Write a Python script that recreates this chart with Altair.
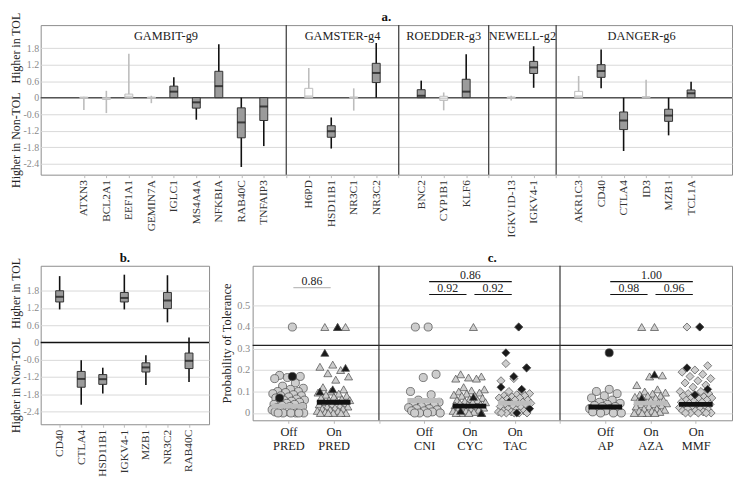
import json
import altair as alt
import pandas as pd

SERIF = "Liberation Serif"

# ---------------- Panel a data ----------------
a_groups = ["GAMBIT-g9", "GAMSTER-g4", "ROEDDER-g3", "NEWELL-g2", "DANGER-g6"]
a_genes = [
    ["ATXN3", "BCL2A1", "EEF1A1", "GEMIN7A", "IGLC1", "MS4A4A", "NFKBIA", "RAB40C", "TNFAIP3"],
    ["H6PD", "HSD11B1", "NR3C1", "NR3C2"],
    ["BNC2", "CYP1B1", "KLF6"],
    ["IGKV1D-13", "IGKV4-1"],
    ["AKR1C3", "CD40", "CTLA4", "ID3", "MZB1", "TCL1A"],
]
a_lo = [-0.45, -0.56, 0.00, -0.20, 0.00, -0.80, 0.00, -2.52, -1.76,
        0.00, -1.85, -0.47, 0.00,
        0.00, -0.46, 0.00,
        -0.10, 0.36,
        0.00, 0.34, -1.94, 0.00, -1.37, 0.00]
a_q1 = [-0.03, -0.06, 0.00, -0.03, 0.00, -0.38, 0.00, -1.46, -0.83,
        0.00, -1.44, -0.02, 0.55,
        0.00, -0.10, 0.00,
        -0.02, 0.88,
        0.00, 0.74, -1.16, 0.00, -0.86, 0.00]
a_med = [-0.01, -0.03, 0.04, -0.01, 0.22, -0.17, 0.42, -0.90, -0.32,
         0.05, -1.22, 0.00, 0.90,
         0.07, -0.03, 0.22,
         0.00, 1.10,
         0.05, 0.97, -0.83, 0.01, -0.65, 0.16]
a_q3 = [0.02, 0.00, 0.13, 0.02, 0.42, 0.00, 0.96, -0.37, 0.00,
        0.34, -1.02, 0.02, 1.25,
        0.29, 0.05, 0.67,
        0.02, 1.32,
        0.23, 1.20, -0.52, 0.03, -0.42, 0.28]
a_hi = [0.03, 0.25, 1.60, 0.07, 0.74, 0.00, 1.94, 0.00, 0.00,
        1.08, -0.72, 0.34, 1.99,
        0.62, 0.19, 1.58,
        0.07, 1.87,
        0.79, 1.75, 0.00, 0.65, 0.00, 0.58]
a_sig = [0, 0, 0, 0, 1, 1, 1, 1, 1,
         0, 1, 0, 1,
         1, 0, 1,
         0, 1,
         0, 1, 1, 0, 1, 1]

# ---------------- Panel b data ----------------
b_genes = ["CD40", "CTLA4", "HSD11B1", "IGKV4-1", "MZB1", "NR3C2", "RAB40C"]
b_lo = [1.15, -2.17, -1.78, 1.15, -1.48, 0.70, -1.38]
b_q1 = [1.41, -1.56, -1.46, 1.41, -1.03, 1.18, -0.91]
b_med = [1.59, -1.27, -1.28, 1.55, -0.87, 1.46, -0.64]
b_q3 = [1.80, -1.01, -1.12, 1.74, -0.71, 1.74, -0.37]
b_hi = [2.31, -0.62, -0.88, 2.36, -0.45, 2.34, 0.17]

# ---------------- Panel c data ----------------
c_sets = [["Off PRED", "On PRED"], ["Off CNI", "On CYC", "On TAC"], ["Off AP", "On AZA", "On MMF"]]
off_pred = [0.40, 0.175, 0.17, 0.165, 0.16, 0.14, 0.125, 0.115, 0.11, 0.10, 0.10, 0.095, 0.09, 0.085,
            0.08, 0.08, 0.075, 0.07, 0.065, 0.06, 0.06, 0.055, 0.05, 0.05, 0.045, 0.04, 0.04, 0.035,
            0.03, 0.03, 0.025, 0.02, 0.02, 0.015, 0.015, 0.01, 0.01, 0.005, 0.005, 0.0, 0.0, 0.0, 0.0, 0.0, 0.0]
off_pred_dark = [0.17, 0.07]
on_pred = [0.40, 0.40, 0.40, 0.225, 0.215, 0.20, 0.185, 0.17, 0.155, 0.12, 0.11, 0.10, 0.095, 0.09,
           0.085, 0.08, 0.075, 0.07, 0.065, 0.06, 0.06, 0.055, 0.05, 0.045, 0.04, 0.04, 0.035, 0.03,
           0.03, 0.025, 0.02, 0.02, 0.015, 0.01, 0.01, 0.005, 0.0, 0.0, 0.0, 0.0, 0.0]
on_pred_dark = [0.40, 0.28, 0.21, 0.11, 0.10]
off_cni = [0.40, 0.40, 0.18, 0.165, 0.10, 0.085, 0.06, 0.05, 0.045, 0.04, 0.035, 0.03, 0.025, 0.02,
           0.02, 0.015, 0.01, 0.01, 0.005, 0.0, 0.0, 0.0, 0.0]
off_cni_dark = []
on_cyc = [0.40, 0.18, 0.17, 0.165, 0.16, 0.16, 0.12, 0.11, 0.105, 0.10, 0.095, 0.09, 0.085, 0.08,
          0.08, 0.07, 0.065, 0.06, 0.06, 0.055, 0.05, 0.05, 0.045, 0.04, 0.04, 0.035, 0.03, 0.03,
          0.025, 0.02, 0.02, 0.015, 0.01, 0.01, 0.005, 0.0, 0.0, 0.0, 0.0]
on_cyc_dark = [0.075, 0.01, 0.0]
on_tac = [0.40, 0.23, 0.21, 0.16, 0.15, 0.10, 0.10, 0.09, 0.085, 0.08, 0.08, 0.075, 0.07, 0.07,
          0.065, 0.06, 0.06, 0.055, 0.05, 0.05, 0.045, 0.04, 0.04, 0.035, 0.03, 0.03, 0.025, 0.02,
          0.02, 0.015, 0.01, 0.01, 0.005, 0.005, 0.0, 0.0, 0.0, 0.0, 0.0]
on_tac_dark = [0.40, 0.28, 0.21, 0.17, 0.12, 0.11, 0.05, 0.02, 0.0]
off_ap = [0.11, 0.10, 0.09, 0.08, 0.07, 0.06, 0.05, 0.045, 0.04, 0.035, 0.03, 0.03, 0.02, 0.02,
          0.015, 0.01, 0.01, 0.005, 0.0, 0.0, 0.0]
off_ap_dark = [0.28]
on_aza = [0.40, 0.40, 0.175, 0.17, 0.13, 0.11, 0.10, 0.095, 0.09, 0.085, 0.08, 0.08, 0.075, 0.07,
          0.065, 0.06, 0.06, 0.055, 0.05, 0.05, 0.045, 0.04, 0.04, 0.035, 0.03, 0.03, 0.02, 0.02,
          0.015, 0.01, 0.01, 0.005, 0.0, 0.0, 0.0, 0.0]
on_aza_dark = [0.18, 0.07]
on_mmf = [0.40, 0.40, 0.22, 0.20, 0.19, 0.18, 0.17, 0.16, 0.15, 0.14, 0.13, 0.12, 0.10, 0.10, 0.09,
          0.09, 0.08, 0.08, 0.075, 0.07, 0.07, 0.065, 0.06, 0.06, 0.055, 0.05, 0.05, 0.045, 0.04,
          0.04, 0.035, 0.03, 0.03, 0.025, 0.02, 0.02, 0.015, 0.01, 0.01, 0.005, 0.0, 0.0, 0.0, 0.0, 0.0]
on_mmf_dark = [0.40, 0.21, 0.11, 0.085]
c_values = [off_pred, on_pred, off_cni, on_cyc, on_tac, off_ap, on_aza, on_mmf]
c_dark = [off_pred_dark, on_pred_dark, off_cni_dark, on_cyc_dark, on_tac_dark, off_ap_dark, on_aza_dark, on_mmf_dark]
c_center = [0.032, 0.050, 0.058, 0.032, 0.046, 0.028, 0.046, 0.040]
c_brackets = [("Off PRED", "On PRED", "0.86", "single"),
              ("Off CNI", "On TAC", "0.86", "upper"),
              ("Off CNI", "On CYC", "0.92", "lower"),
              ("On CYC", "On TAC", "0.92", "lower"),
              ("Off AP", "On MMF", "1.00", "upper"),
              ("Off AP", "On AZA", "0.98", "lower"),
              ("On AZA", "On MMF", "0.96", "lower")]

# styles
c_shapes = ["circle", "triangle-up", "circle", "triangle-up", "diamond", "circle", "triangle-up", "diamond"]
c_bar_colors = ["#9a9a9a", "#111111", "#9a9a9a", "#6e6e6e", "#111111", "#9a9a9a", "#808080", "#111111"]

# ---------------- build tables (positions from list order) ----------------
rows, a_labels, a_seps, a_centers = [], [], [], []
p = 0
i = 0
A_DOM = [-1.7, 28.6]
left = A_DOM[0]
for gi, (g, genes) in enumerate(zip(a_groups, a_genes)):
    for gname in genes:
        rows.append(dict(gene=gname, pos=p, lo=a_lo[i], q1=a_q1[i], med=a_med[i], q3=a_q3[i],
                         hi=a_hi[i], sig="sig" if a_sig[i] else "ns"))
        a_labels.append(gname)
        p += 1
        i += 1
    right = p if gi < len(a_groups) - 1 else A_DOM[1]
    a_centers.append(dict(group=g, pos=(left + right) / 2))
    if gi < len(a_groups) - 1:
        a_seps.append(dict(pos=p))
        a_labels.append("")
        left = p
        p += 1
df_a = pd.DataFrame(rows)
df_a_sep = pd.DataFrame(a_seps)
df_a_grp = pd.DataFrame(a_centers)

df_b = pd.DataFrame(dict(gene=b_genes, pos=list(range(len(b_genes))), lo=b_lo, q1=b_q1,
                         med=b_med, q3=b_q3, hi=b_hi, sig=["sig"] * len(b_genes)))

c_cats, c_pos, c_labels, c_seps = [], [], [], []
p = 0
for si, s in enumerate(c_sets):
    for cat in s:
        c_cats.append(cat)
        c_pos.append(p)
        c_labels.append(cat)
        p += 1
    if si < len(c_sets) - 1:
        c_seps.append(dict(pos=p))
        c_labels.append("")
        p += 1
pos_of = dict(zip(c_cats, c_pos))
prow = []
for cat, vals, dk in zip(c_cats, c_values, c_dark):
    for v in vals:
        prow.append(dict(cat=cat, pos=pos_of[cat], value=v, dark="n"))
    for v in dk:
        prow.append(dict(cat=cat, pos=pos_of[cat], value=v, dark="y"))
df_c = pd.DataFrame(prow)
df_c_mean = pd.DataFrame(dict(cat=c_cats, pos=c_pos, center=c_center))
df_c_sep = pd.DataFrame(c_seps)
df_c_br = pd.DataFrame([dict(x1=pos_of[a], x2=pos_of[b], mid=(pos_of[a] + pos_of[b]) / 2 + 0.02,
                             label=lab, level=lev, kind="grey" if a == "Off PRED" else "black")
                        for a, b, lab, lev in c_brackets])
df_c_div = pd.DataFrame(dict(v=[0.315]))

# ---------------- shared axis helpers ----------------
LBL = "toString(round(datum.value*10)/10)"
Y_TICKS = [1.8, 1.2, 0.6, 0, -0.6, -1.2, -1.8, -2.4]
NB = "\u00a0"
TITLE_Y = "Higher in Non-TOL" + NB * 3 + "Higher in TOL"


def y_axis(title):
    return alt.Axis(values=Y_TICKS, labelExpr=LBL, title=title, grid=True, gridColor="#d9d9d9",
                    domain=False, ticks=False, labelColor="#8a8a8a", labelFontSize=10,
                    labelFont=SERIF, labelPadding=2, labelOverlap=False,
                    titleFont=SERIF, titleFontSize=12, titleFontWeight="normal",
                    titleColor="#222", titlePadding=1)


def x_axis(n, labels):
    return alt.Axis(values=list(range(n)), labelExpr=json.dumps(labels) + "[datum.value]",
                    labelAngle=270, grid=False, domain=False, ticks=True, tickSize=3,
                    tickColor="#bbbbbb", labelColor="#333", labelFontSize=11.5, labelFont=SERIF,
                    labelPadding=2, labelOverlap=False, title=None)


sig_color = alt.Scale(domain=["ns", "sig"], range=["#bdbdbd", "#111111"])
sig_fill = alt.Scale(domain=["ns", "sig"], range=["#ffffff", "#9b9b9b"])
sig_stroke = alt.Scale(domain=["ns", "sig"], range=["#bdbdbd", "#333333"])


def panel_title(txt, w):
    return alt.Chart(pd.DataFrame(dict(t=[txt]))).mark_text(
        font=SERIF, fontSize=13, fontWeight="bold", color="#111", baseline="middle"
    ).encode(text="t:N", x=alt.value(w / 2), y=alt.value(-8))


def box_layers(df, X, Y_scale, title, zero_color, seps=None, groups=None):
    Yq = lambda f: alt.Y(f, scale=Y_scale, axis=y_axis(title))
    base = alt.Chart(df)
    zero = alt.Chart(pd.DataFrame(dict(z=[0.0]))).mark_rule(color=zero_color, strokeWidth=1.5).encode(
        y=Yq("z:Q"))
    whisk = base.mark_rule(strokeWidth=1.6).encode(
        x=X, y=Yq("lo:Q"), y2="hi:Q",
        color=alt.Color("sig:N", scale=sig_color, legend=None))
    box = base.mark_bar(size=8, strokeWidth=1).encode(
        x=X, y=Yq("q1:Q"), y2="q3:Q",
        fill=alt.Fill("sig:N", scale=sig_fill, legend=None),
        stroke=alt.Stroke("sig:N", scale=sig_stroke, legend=None))
    med = base.mark_tick(orient="horizontal", size=8, thickness=2).encode(
        x=X, y=Yq("med:Q"),
        color=alt.Color("sig:N", scale=sig_color, legend=None))
    layers = [zero]
    if seps is not None:
        layers.append(alt.Chart(seps).mark_rule(color="#444", strokeWidth=1.3).encode(x=X))
    layers += [whisk, box, med]
    if groups is not None:
        layers.append(alt.Chart(groups).mark_text(font=SERIF, fontSize=12.5, color="#222",
                                                   baseline="middle").encode(
            x=X, y=alt.value(11), text="group:N"))
    return layers


# ---------------- Panel a ----------------
WA, HA = 698, 151
xa_scale = alt.Scale(domain=A_DOM, nice=False, zero=False)
Xa = alt.X("pos:Q", scale=xa_scale, axis=x_axis(len(a_labels), a_labels))
ya_scale = alt.Scale(domain=[-2.8, 2.64], nice=False, zero=False)
chart_a = alt.layer(*box_layers(df_a, Xa, ya_scale, TITLE_Y, "#555", df_a_sep, df_a_grp),
                    panel_title("a.", WA)).properties(width=WA, height=HA)

# ---------------- Panel b ----------------
WB, HB = 170, 160
xb_scale = alt.Scale(domain=[-0.65, 6.7], nice=False, zero=False)
Xb = alt.X("pos:Q", scale=xb_scale, axis=x_axis(len(b_genes), b_genes))
yb_scale = alt.Scale(domain=[-2.85, 2.67], nice=False, zero=False)
chart_b = alt.layer(*box_layers(df_b, Xb, yb_scale, TITLE_Y, "#111"),
                    panel_title("b.", WB)).properties(width=WB, height=HB)

# ---------------- Panel c ----------------
WC, HC = 484, 156
xc_scale = alt.Scale(domain=[-0.79, 9.8], nice=False, zero=False)
xc_axis = alt.Axis(values=list(range(len(c_labels))),
                   labelExpr="split(" + json.dumps(c_labels) + "[datum.value], ' ')",
                   labelAngle=0, grid=False, domain=False, ticks=True, tickSize=3,
                   tickColor="#bbbbbb", labelColor="#222", labelFontSize=12.5, labelFont=SERIF,
                   labelPadding=2, labelOverlap=False, labelLineHeight=14, title=None)
yc_scale = alt.Scale(domain=[-0.034, 0.685], nice=False, zero=False)
yc_axis = alt.Axis(values=[0, 0.1, 0.2, 0.3, 0.4, 0.5], labelExpr=LBL, title="Probability of Tolerance",
                   grid=True, gridColor="#d9d9d9", domain=False, ticks=False, labelColor="#8a8a8a",
                   labelFontSize=10.5, labelFont=SERIF, labelPadding=3, labelOverlap=False,
                   titleFont=SERIF, titleFontSize=12.5, titleFontWeight="normal", titleColor="#222",
                   titlePadding=3)
Xc = lambda f: alt.X(f, scale=xc_scale, axis=xc_axis)
Yc = lambda f: alt.Y(f, scale=yc_scale, axis=yc_axis)

pts_base = alt.Chart(df_c).transform_window(
    idx="row_number()", groupby=["cat", "dark"]
).transform_calculate(
    xj="datum.pos + ((datum.idx * 0.618034) % 1 - 0.5) * 0.74"
)
shape_enc = alt.Shape("cat:N", scale=alt.Scale(domain=c_cats, range=c_shapes), legend=None)
pt_layers = []
for key, fillc in [("n", "#cdcdcd"), ("y", "#1a1a1a")]:
    pt_layers.append(pts_base.transform_filter(alt.datum.dark == key).mark_point(
        filled=True, size=66, strokeWidth=0.7).encode(
        x=Xc("xj:Q"), y=Yc("value:Q"), shape=shape_enc,
        fill=alt.value(fillc), stroke=alt.value("#4a4a4a"),
        opacity=alt.value(1), fillOpacity=alt.value(1), strokeOpacity=alt.value(1)))

bars = alt.Chart(df_c_mean).mark_tick(orient="horizontal", size=34, thickness=5).encode(
    x=Xc("pos:Q"), y=Yc("center:Q"), opacity=alt.value(1),
    color=alt.Color("cat:N", scale=alt.Scale(domain=c_cats, range=c_bar_colors), legend=None))

c_sep = alt.Chart(df_c_sep).mark_rule(color="#333", strokeWidth=1.2).encode(x=Xc("pos:Q"))
c_div = alt.Chart(df_c_div).mark_rule(color="#222", strokeWidth=1.2).encode(y=Yc("v:Q"))

br_layers = []
for lev, py in [("upper", 16), ("single", 22), ("lower", 29)]:
    br = alt.Chart(df_c_br).transform_filter(alt.datum.level == lev)
    br_layers.append(br.mark_rule(strokeWidth=1.2, xOffset=5, x2Offset=-3).encode(
        x=Xc("x1:Q"), x2="x2:Q", y=alt.value(py),
        color=alt.Color("kind:N", scale=alt.Scale(domain=["grey", "black"], range=["#777777", "#111111"]),
                        legend=None)))
    br_layers.append(br.mark_text(font=SERIF, fontSize=12, color="#222", baseline="middle").encode(
        x=Xc("mid:Q"), y=alt.value(py - 7), text="label:N"))

chart_c = alt.layer(c_div, c_sep, *pt_layers, bars, *br_layers, panel_title("c.", WC)).properties(
    width=WC, height=HC)

row2 = alt.hconcat(chart_b, chart_c, spacing=44, bounds="flush")
chart = alt.vconcat(chart_a, row2, spacing=92, bounds="flush").properties(padding=0).configure(
    padding=0
).configure_view(stroke="#8c8c8c", strokeWidth=1)

chart.save("out.html", embed_options={"renderer": "svg", "actions": False})
